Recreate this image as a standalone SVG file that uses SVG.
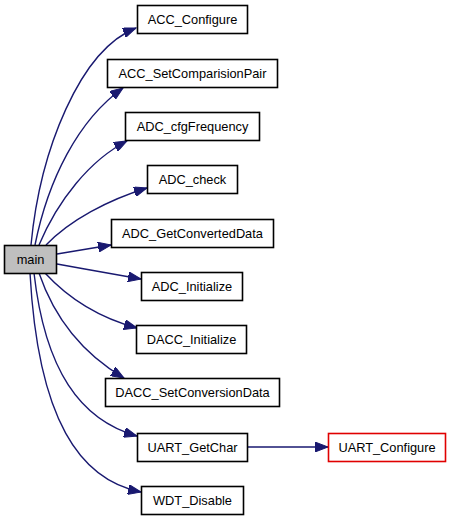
<svg xmlns="http://www.w3.org/2000/svg" width="451" height="520" viewBox="0 0 451 520">
<defs>
<style>
.n rect{fill:#fff;stroke:#000;stroke-width:1.6}
.n text{font-family:"Liberation Sans",Arial,sans-serif;font-size:12.8px;text-anchor:middle;fill:#000}
#main rect{fill:#bfbfbf}
#UART_Configure rect{stroke:#e00000}
.e path{fill:none;stroke:#191970;stroke-width:1.4;marker-end:url(#ah)}
</style>
<marker id="ah" markerUnits="userSpaceOnUse" markerWidth="14" markerHeight="10" refX="13" refY="5" orient="auto">
<path d="M0,0 L13,5 L0,10 z" fill="#191970" stroke="#191970"/>
</marker>
</defs>
<rect width="451" height="520" fill="#fff"/>
<g class="e" id="edges">
<path d="M31,245 C40,150 80,50 136,28"/>
<path d="M35,245 C48,180 78,120 123,88"/>
<path d="M39,245 C58,200 90,160 127,141"/>
<path d="M46,245 C70,220 108,200 147,188"/>
<path d="M57,254 C75,251 93,248 111,245"/>
<path d="M57,264 C85,269 112,274 141,279"/>
<path d="M45,273 C68,298 100,318 137,328"/>
<path d="M39,273 C55,320 85,355 124,378"/>
<path d="M34,273 C45,370 80,420 137,436"/>
<path d="M30,273 C38,420 80,480 141,492"/>
<path d="M247,447 L328,447"/>
</g>
<g class="n" id="main"><rect x="4.5" y="245.5" width="52" height="28"/><text x="30.5" y="264">main</text></g>
<g class="n" id="ACC_Configure"><rect x="137.5" y="5.5" width="110" height="28"/><text x="192.5" y="24">ACC_Configure</text></g>
<g class="n" id="ACC_SetComparisionPair"><rect x="107.5" y="59.5" width="170" height="28"/><text x="192.5" y="78">ACC_SetComparisionPair</text></g>
<g class="n" id="ADC_cfgFrequency"><rect x="125.5" y="112.5" width="134" height="28"/><text x="192.5" y="131">ADC_cfgFrequency</text></g>
<g class="n" id="ADC_check"><rect x="147.5" y="165.5" width="90" height="28"/><text x="192.5" y="184">ADC_check</text></g>
<g class="n" id="ADC_GetConvertedData"><rect x="111.5" y="219.5" width="162" height="28"/><text x="192.5" y="238">ADC_GetConvertedData</text></g>
<g class="n" id="ADC_Initialize"><rect x="141.5" y="272.5" width="101" height="28"/><text x="192" y="291">ADC_Initialize</text></g>
<g class="n" id="DACC_Initialize"><rect x="136.5" y="325.5" width="110" height="28"/><text x="191.5" y="344">DACC_Initialize</text></g>
<g class="n" id="DACC_SetConversionData"><rect x="105.5" y="378.5" width="174" height="28"/><text x="192.5" y="397">DACC_SetConversionData</text></g>
<g class="n" id="UART_GetChar"><rect x="137.5" y="433.5" width="110" height="28"/><text x="192.5" y="452">UART_GetChar</text></g>
<g class="n" id="UART_Configure"><rect x="328.5" y="433.5" width="117" height="28"/><text x="387" y="452">UART_Configure</text></g>
<g class="n" id="WDT_Disable"><rect x="141.5" y="486.5" width="102" height="28"/><text x="192.5" y="505">WDT_Disable</text></g>
</svg>
